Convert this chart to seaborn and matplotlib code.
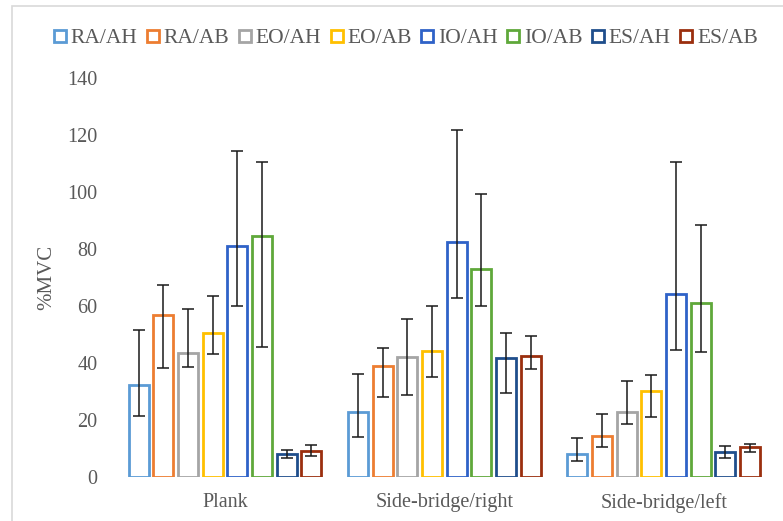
import matplotlib
matplotlib.use("Agg")
import matplotlib.pyplot as plt
from matplotlib.container import BarContainer
from matplotlib.lines import Line2D
from matplotlib.patches import Rectangle
import numpy as np
import pandas as pd
import seaborn as sns

# Exercises on the x axis and muscle/condition series
exercises = ["Plank", "Side-bridge/right", "Side-bridge/left"]
series = ["RA/AH", "RA/AB", "EO/AH", "EO/AB", "IO/AH", "IO/AB", "ES/AH", "ES/AB"]
colors = ["#5B9BD5", "#ED7D31", "#A5A5A5", "#FFC000",
          "#2F62C8", "#5FA83A", "#1F4E8C", "#9B2F0E"]

# Mean %MVC per series, one value per exercise
ra_ah = [32.5, 23.1, 8.1]
ra_ab = [57.0, 39.0, 14.5]
eo_ah = [43.6, 42.2, 22.9]
eo_ab = [50.6, 44.2, 30.3]
io_ah = [81.2, 82.4, 64.5]
io_ab = [84.8, 73.0, 61.3]
es_ah = [8.1, 41.8, 8.9]
es_ab = [9.3, 42.6, 10.7]

# Lower and upper ends of the error bars
ra_ah_lo, ra_ah_hi = [21.7, 14.2, 5.7], [51.8, 36.2, 13.9]
ra_ab_lo, ra_ab_hi = [38.4, 28.1, 10.6], [67.5, 45.3, 22.4]
eo_ah_lo, eo_ah_hi = [38.7, 28.9, 18.6], [59.0, 55.4, 33.7]
eo_ab_lo, eo_ab_hi = [43.2, 35.1, 21.2], [63.8, 60.2, 35.8]
io_ah_lo, io_ah_hi = [60.2, 63.0, 44.8], [114.6, 121.9, 110.7]
io_ab_lo, io_ab_hi = [45.6, 60.2, 43.9], [110.7, 99.5, 88.6]
es_ah_lo, es_ah_hi = [6.7, 29.7, 6.9], [9.8, 50.7, 11.1]
es_ab_lo, es_ab_hi = [7.5, 37.9, 9.0], [11.4, 49.6, 11.9]

means = [ra_ah, ra_ab, eo_ah, eo_ab, io_ah, io_ab, es_ah, es_ab]
lows = [ra_ah_lo, ra_ab_lo, eo_ah_lo, eo_ab_lo, io_ah_lo, io_ab_lo, es_ah_lo, es_ab_lo]
highs = [ra_ah_hi, ra_ab_hi, eo_ah_hi, eo_ab_hi, io_ah_hi, io_ab_hi, es_ah_hi, es_ab_hi]

rows = []
for s, vals in zip(series, means):
    for e, v in zip(exercises, vals):
        rows.append({"exercise": e, "series": s, "mvc": v})
df = pd.DataFrame(rows)

sns.set_theme(style="white")
plt.rcParams["font.family"] = ["Liberation Serif", "DejaVu Serif"]
text_color = "#595959"

fig = plt.figure(figsize=(7.83, 5.21), dpi=100)
ax = fig.add_axes([0.1475, 0.0835, 0.8402, 0.7665])

sns.barplot(data=df, x="exercise", y="mvc", hue="series",
            order=exercises, hue_order=series, palette=colors,
            fill=False, width=0.9, gap=0.19, errorbar=None,
            linewidth=2.0, legend=False, ax=ax)

# Asymmetric error bars centred on each bar
bar_sets = [c for c in ax.containers if isinstance(c, BarContainer)]
for i, cont in enumerate(bar_sets):
    for patch in cont.patches:
        if patch is None:
            continue
        xc = patch.get_x() + patch.get_width() / 2
        j = int(round(xc))
        m = means[i][j]
        ax.errorbar(xc, m, yerr=[[m - lows[i][j]], [highs[i][j] - m]],
                    fmt="none", ecolor="#1a1a1a", elinewidth=1.1,
                    capsize=4, capthick=1.1, zorder=5)

ax.set_xlim(-0.5, 2.5)
ax.set_ylim(0, 140)
ax.set_yticks(np.arange(0, 141, 20))
ax.set_xlabel("")
ax.set_ylabel("%MVC", fontsize=15, color=text_color, labelpad=8)
ax.tick_params(axis="y", length=0, pad=13, labelsize=14.5, labelcolor=text_color)
ax.tick_params(axis="x", length=0, pad=11, labelsize=14.5, labelcolor=text_color)
for sp in ax.spines.values():
    sp.set_visible(False)

handles = [Line2D([0], [0], linestyle="none", marker="s", markersize=8,
                  markerfacecolor="white", markeredgecolor=c, markeredgewidth=2)
           for c in colors]
fig.legend(handles, series, loc="center", bbox_to_anchor=(0.5185, 0.927),
           ncol=8, frameon=False, fontsize=15.5, handlelength=0.55,
           handletextpad=0.22, columnspacing=0.45, labelcolor=text_color)

# Chart-area outline
fig.add_artist(Rectangle((12 / 783, -0.1), 1.2, 1.1 - 5.5 / 521,
                         transform=fig.transFigure, fill=False,
                         edgecolor="#D9D9D9", linewidth=1.2))

fig.savefig("out.png", dpi=100)
